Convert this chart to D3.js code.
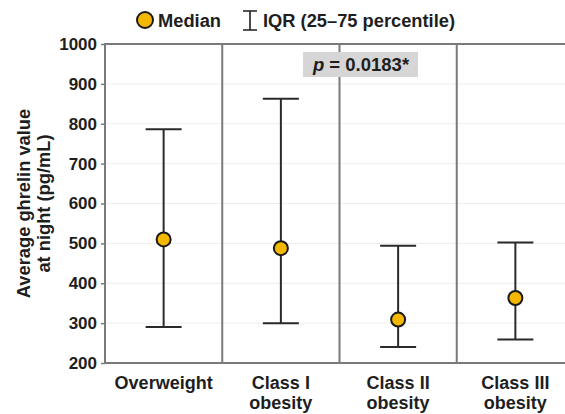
<!DOCTYPE html>
<html>
<head>
<meta charset="utf-8">
<script src="https://cdn.jsdelivr.net/npm/d3@7/dist/d3.min.js"></script>
<style>
  html, body { margin: 0; padding: 0; background: #fff; }
  svg { display: block; font-family: "Liberation Sans", Arial, sans-serif; }
</style>
</head>
<body>
<svg id="chart" width="565" height="414"></svg>
<script>
// Groups and their ghrelin summary statistics (pg/mL)
const categories = ["Overweight", "Class I\nobesity", "Class II\nobesity", "Class III\nobesity"];
const medians = [510, 488, 309, 363];
const q1 = [290, 300, 240, 259];
const q3 = [786, 863, 494, 502];
const yTicks = [200, 300, 400, 500, 600, 700, 800, 900, 1000];
const pLabel = "0.0183*";

const svg = d3.select("#chart");
const m = { left: 105, right: 574, top: 44, bottom: 363 };
const ink = "#1e1e1e";

const x = d3.scaleBand().domain(d3.range(categories.length)).range([m.left, m.right]).padding(0);
const y = d3.scaleLinear().domain([200, 1000]).range([m.bottom, m.top]);

// light horizontal gridlines
svg.append("g").selectAll("line").data(yTicks.slice(1, -1)).join("line")
  .attr("x1", m.left).attr("x2", m.right)
  .attr("y1", d => y(d)).attr("y2", d => y(d))
  .attr("stroke", "#ededed").attr("stroke-width", 1);

// panel separators
svg.append("g").selectAll("line").data(d3.range(1, categories.length)).join("line")
  .attr("x1", d => x(d)).attr("x2", d => x(d))
  .attr("y1", m.top).attr("y2", m.bottom)
  .attr("stroke", "#7a7a7a").attr("stroke-width", 2);

// frame
svg.append("rect")
  .attr("x", m.left).attr("y", m.top)
  .attr("width", m.right - m.left).attr("height", m.bottom - m.top)
  .attr("fill", "none").attr("stroke", "#7a7a7a").attr("stroke-width", 2);

// y axis
const yAxis = svg.append("g")
  .attr("transform", `translate(${m.left},0)`)
  .call(d3.axisLeft(y).tickValues(yTicks).tickFormat(d3.format("d")).tickSize(4).tickPadding(4));
yAxis.select(".domain").remove();
yAxis.selectAll(".tick line").attr("stroke", "#7a7a7a").attr("stroke-width", 1.5);
yAxis.selectAll(".tick text")
  .attr("font-size", 17).attr("font-weight", "bold").attr("fill", ink)
  .attr("font-family", "Liberation Sans, Arial, sans-serif");

// y axis title
const yTitle = svg.append("text")
  .attr("transform", `translate(0,${(m.top + m.bottom) / 2}) rotate(-90)`)
  .attr("text-anchor", "middle")
  .attr("font-size", 18.3).attr("font-weight", "bold").attr("fill", ink);
yTitle.append("tspan").attr("x", 0).attr("y", 30).text("Average ghrelin value");
yTitle.append("tspan").attr("x", 0).attr("y", 50).text("at night (pg/mL)");

// x category labels
const cx = i => x(i) + x.bandwidth() / 2;
const xl = svg.append("g").selectAll("text").data(categories).join("text")
  .attr("text-anchor", "middle")
  .attr("font-size", 18).attr("font-weight", "bold").attr("fill", ink);
xl.each(function (d, i) {
  const t = d3.select(this);
  d.split("\n").forEach((line, k) => {
    t.append("tspan").attr("x", cx(i)).attr("y", 389 + k * 20).text(line);
  });
});

// IQR whiskers
const capW = 18;
const g = svg.append("g").attr("stroke", "#2a2a2a").attr("stroke-width", 2);
g.selectAll(".stem").data(categories).join("line")
  .attr("x1", (d, i) => cx(i)).attr("x2", (d, i) => cx(i))
  .attr("y1", (d, i) => y(q1[i])).attr("y2", (d, i) => y(q3[i]));
g.selectAll(".capTop").data(categories).join("line")
  .attr("x1", (d, i) => cx(i) - capW).attr("x2", (d, i) => cx(i) + capW)
  .attr("y1", (d, i) => y(q3[i])).attr("y2", (d, i) => y(q3[i]));
g.selectAll(".capBot").data(categories).join("line")
  .attr("x1", (d, i) => cx(i) - capW).attr("x2", (d, i) => cx(i) + capW)
  .attr("y1", (d, i) => y(q1[i])).attr("y2", (d, i) => y(q1[i]));

// medians
svg.append("g").selectAll("circle").data(medians).join("circle")
  .attr("cx", (d, i) => cx(i)).attr("cy", d => y(d)).attr("r", 7)
  .attr("fill", "#f5b800").attr("stroke", "#1a1a1a").attr("stroke-width", 2);

// p-value box
svg.append("rect").attr("x", 303).attr("y", 52).attr("width", 115).attr("height", 25)
  .attr("fill", "#d6d6d6");
const pt = svg.append("text").attr("x", 361).attr("y", 71).attr("text-anchor", "middle")
  .attr("font-size", 18.5).attr("font-weight", "bold").attr("fill", ink);
pt.append("tspan").attr("font-style", "italic").text("p");
pt.append("tspan").text(" = " + pLabel);

// legend
const lg = svg.append("g");
lg.append("circle").attr("cx", 145).attr("cy", 20).attr("r", 8)
  .attr("fill", "#f5b800").attr("stroke", "#1a1a1a").attr("stroke-width", 2);
lg.append("text").attr("x", 158).attr("y", 27).attr("font-size", 18.3).attr("font-weight", "bold")
  .attr("fill", ink).text("Median");
lg.append("path").attr("d", "M243,11H257M250,11V30M243,30H257")
  .attr("stroke", ink).attr("stroke-width", 1.6).attr("fill", "none");
lg.append("text").attr("x", 263).attr("y", 27).attr("font-size", 18.3).attr("font-weight", "bold")
  .attr("fill", ink).text("IQR (25–75 percentile)");
</script>
</body>
</html>
